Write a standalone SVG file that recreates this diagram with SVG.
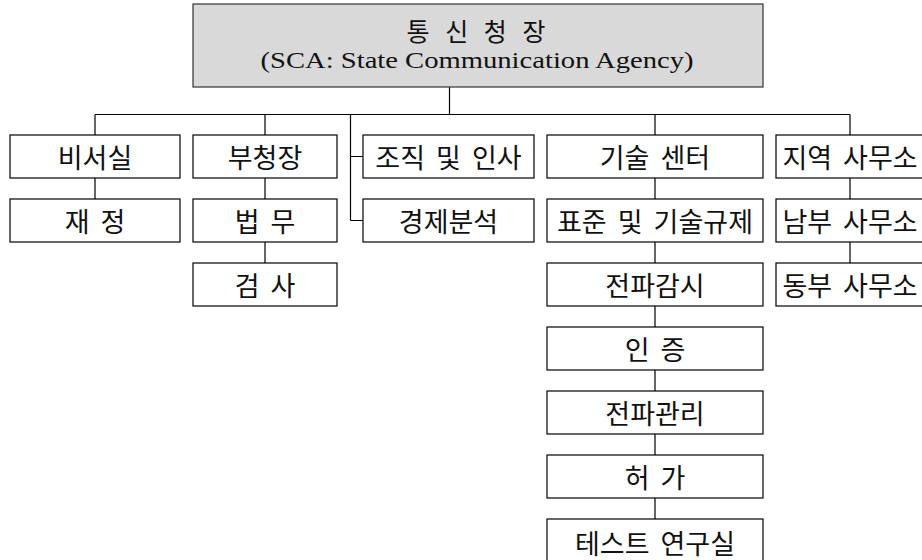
<svg xmlns="http://www.w3.org/2000/svg" width="922" height="560" viewBox="0 0 922 560">
<style>
.box{fill:#fff;stroke:#000;stroke-width:1.2}
.top{fill:#d9d9d9;stroke:#333;stroke-width:1.2}
.lbl{font-family:"Noto Sans CJK KR","Noto Sans",sans-serif;font-size:27px;fill:#111;text-anchor:middle;dominant-baseline:central;word-spacing:5px}
.lat{font-family:"Liberation Serif","Noto Sans CJK KR",serif;font-size:24px;fill:#111;text-anchor:middle}
.cn{stroke:#000;stroke-width:1.2;fill:none}
</style>
<rect width="922" height="560" fill="#fff"/>
<g id="connectors">
<path class="cn" d="M449.5 87V114.5M95 114.5H850M95 114.5V135M265 114.5V135M350.5 114.5V220.5M350.5 156.5H363M350.5 220.5H363M655 114.5V135M850 114.5V135"/>
<path class="cn" d="M95 178V199M265 178V199M265 242V263M655 178V199M655 242V263M655 306V327M655 370V391M655 434V455M655 498V519M850 178V199M850 242V263"/>
</g>
<g id="n-top"><rect class="top" x="193" y="4" width="570" height="83"/>
<text class="lbl" x="476" y="30" style="font-size:25px;word-spacing:10px">통 신 청 장</text>
<text class="lat" x="477" y="68" textLength="433" lengthAdjust="spacingAndGlyphs">(SCA: State Communication Agency)</text></g>
<g id="n-secretary"><rect class="box" x="10" y="135" width="170" height="43"/><text class="lbl" x="95" y="156.5">비서실</text></g>
<g id="n-finance"><rect class="box" x="10" y="199" width="170" height="43"/><text class="lbl" x="95" y="220.5">재 정</text></g>
<g id="n-deputy"><rect class="box" x="193" y="135" width="144" height="43"/><text class="lbl" x="265" y="156.5">부청장</text></g>
<g id="n-legal"><rect class="box" x="193" y="199" width="144" height="43"/><text class="lbl" x="265" y="220.5">법 무</text></g>
<g id="n-audit"><rect class="box" x="193" y="263" width="144" height="43"/><text class="lbl" x="265" y="284.5">검 사</text></g>
<g id="n-org"><rect class="box" x="363" y="135" width="171" height="43"/><text class="lbl" x="448.5" y="156.5">조직 및 인사</text></g>
<g id="n-econ"><rect class="box" x="363" y="199" width="171" height="43"/><text class="lbl" x="448.5" y="220.5">경제분석</text></g>
<g id="n-tech"><rect class="box" x="547" y="135" width="216" height="43"/><text class="lbl" x="655" y="156.5">기술 센터</text></g>
<g id="n-std"><rect class="box" x="547" y="199" width="216" height="43"/><text class="lbl" x="655" y="220.5">표준 및 기술규제</text></g>
<g id="n-monitor"><rect class="box" x="547" y="263" width="216" height="43"/><text class="lbl" x="655" y="284.5">전파감시</text></g>
<g id="n-cert"><rect class="box" x="547" y="327" width="216" height="43"/><text class="lbl" x="655" y="348.5">인 증</text></g>
<g id="n-spectrum"><rect class="box" x="547" y="391" width="216" height="43"/><text class="lbl" x="655" y="412.5">전파관리</text></g>
<g id="n-license"><rect class="box" x="547" y="455" width="216" height="43"/><text class="lbl" x="655" y="476.5">허 가</text></g>
<g id="n-lab"><rect class="box" x="547" y="519" width="216" height="45"/><text class="lbl" x="655" y="542">테스트 연구실</text></g>
<g id="n-regional"><rect class="box" x="776" y="135" width="148" height="43"/><text class="lbl" x="850" y="156.5">지역 사무소</text></g>
<g id="n-south"><rect class="box" x="776" y="199" width="148" height="43"/><text class="lbl" x="850" y="220.5">남부 사무소</text></g>
<g id="n-east"><rect class="box" x="776" y="263" width="148" height="43"/><text class="lbl" x="850" y="284.5">동부 사무소</text></g>
</svg>
